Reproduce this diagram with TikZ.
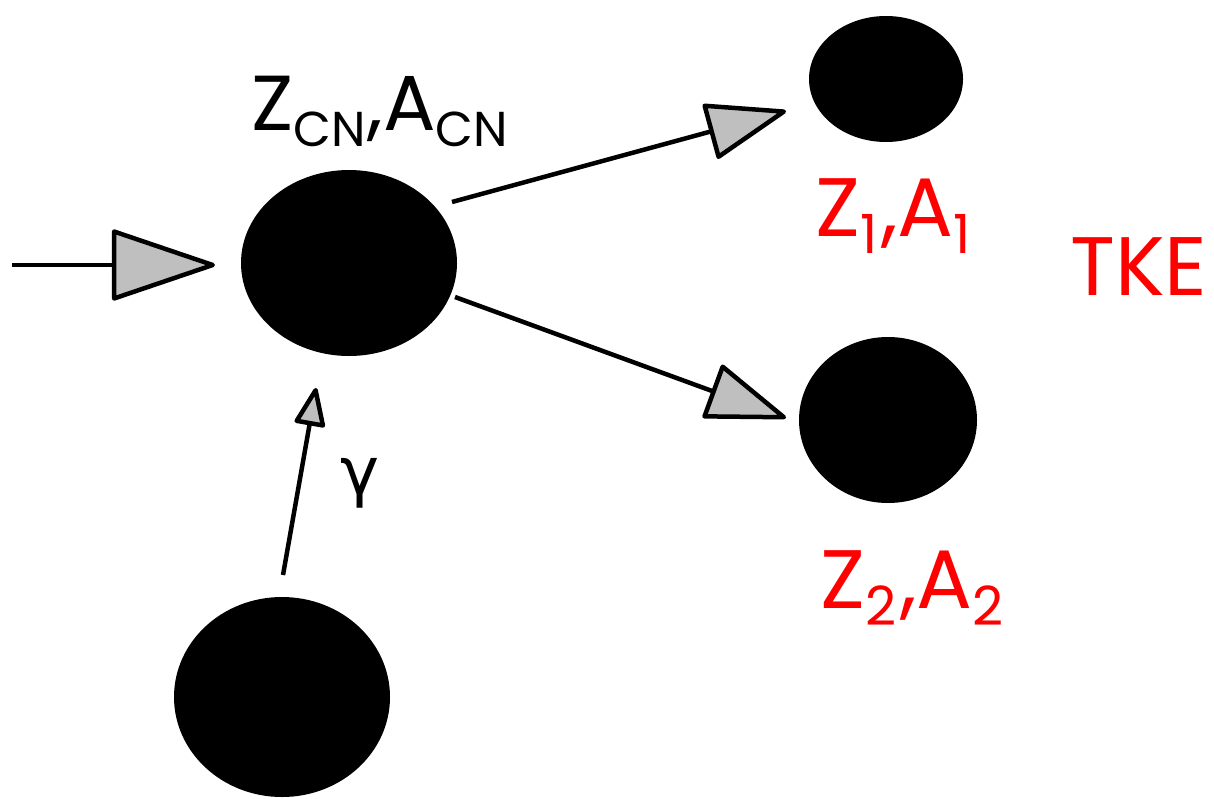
\documentclass[tikz,border=0pt]{standalone}
\usepackage{fontspec}
\setmainfont{Poppins}
\newfontfamily\greekfont{DejaVu Sans}
\usetikzlibrary{arrows.meta,shapes.geometric}
\newcommand{\mysub}[1]{\raisebox{-17pt}{\fontsize{54}{56}\selectfont #1}}
\newcommand{\mysubs}[1]{\raisebox{-16pt}{\fontsize{49}{52}\selectfont #1}}
\begin{document}
\begin{tikzpicture}[x=1pt,y=-1pt,
  ball/.style={ellipse,fill=black,inner sep=0pt},
  conn/.style={line width=4.5pt},
  bigtip/.style={-{Triangle[length=108pt,width=72pt,fill=gray!50,line join=round]}},
  midtip/.style={-{Triangle[length=84pt,width=58pt,fill=gray!50,line join=round]}},
  smalltip/.style={-{Triangle[length=42pt,width=32pt,fill=gray!50,line join=round]}},
  lbl/.style={inner sep=0pt,anchor=base west,font=\fontsize{83}{88}\selectfont},
]
\useasboundingbox (0,0) rectangle (1214,798);
\node[ball,minimum width=216pt,minimum height=186pt] (cn) at (349,263) {};
\node[ball,minimum width=154pt,minimum height=126pt] (f1) at (886,79) {};
\node[ball,minimum width=178pt,minimum height=166pt] (f2) at (888,420) {};
\node[ball,minimum width=216pt,minimum height=200pt] (tg) at (282,697) {};

\coordinate (inS) at (12,265);
\coordinate (inE) at (215,265);
\coordinate (u1) at (452,202);
\coordinate (u2) at (786,111);
\coordinate (l1) at (455,297);
\coordinate (l2) at (786,418);
\coordinate (g1) at (283,575);
\coordinate (g2) at (316,388);

\draw[conn,bigtip] (inS) -- (inE);
\draw[conn,midtip] (u1) -- (u2);
\draw[conn,midtip] (l1) -- (l2);
\draw[conn,smalltip] (g1) -- (g2);

\node[lbl,font=\fontsize{78}{82}\selectfont] (tcn) at (251,130) {Z\mysubs{CN}\kern2pt,A\mysubs{CN}};
\node[lbl,text=red] (t1) at (815,236) {Z\mysub{1}\kern4pt,A\mysub{1}};
\node[lbl,text=red] (tke) at (1070,295) {TKE};
\node[lbl,text=red] (t2) at (820,608) {Z\mysub{2}\kern4pt,A\mysub{2}};
\node[inner sep=0pt,font=\greekfont\fontsize{66}{70}\selectfont] (gm) at (360,483) {γ};
\end{tikzpicture}
\end{document}
